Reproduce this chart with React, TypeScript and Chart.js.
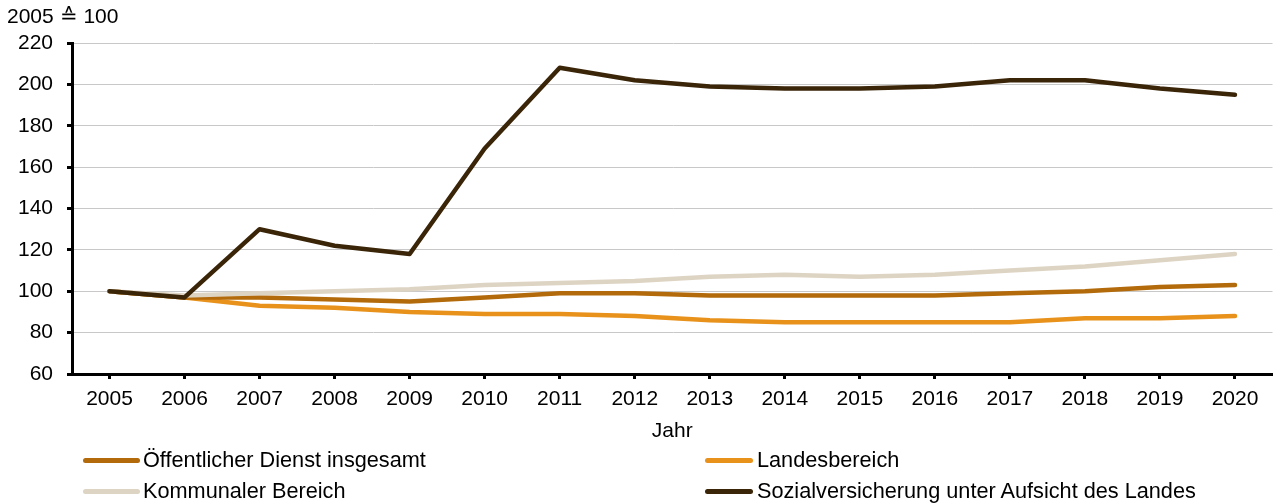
import React, { useEffect, useRef } from "react";
import { Chart, registerables } from "chart.js";

Chart.register(...registerables);

const years = ["2005", "2006", "2007", "2008", "2009", "2010", "2011", "2012", "2013", "2014", "2015", "2016", "2017", "2018", "2019", "2020"];
const oeffentlich = [100, 97, 97, 96, 95, 97, 99, 99, 98, 98, 98, 98, 99, 100, 102, 103];
const landes = [100, 97, 93, 92, 90, 89, 89, 88, 86, 85, 85, 85, 85, 87, 87, 88];
const kommunal = [100, 98, 99, 100, 101, 103, 104, 105, 107, 108, 107, 108, 110, 112, 115, 118];
const sozial = [100, 97, 130, 122, 118, 169, 208, 202, 199, 198, 198, 199, 202, 202, 198, 195];

const seriesNames = [
  "Öffentlicher Dienst insgesamt",
  "Landesbereich",
  "Kommunaler Bereich",
  "Sozialversicherung unter Aufsicht des Landes",
];
const seriesColors = ["#B36A0A", "#E8921C", "#DED4C4", "#3A2508"];

const yMin = 60;
const yMax = 220;
const yStep = 20;
const yUnitLabel = "2005 ≙ 100";
const xTitle = "Jahr";

const FONT = "'Liberation Sans', Arial, Helvetica, sans-serif";

export default function App() {
  const ref = useRef<HTMLCanvasElement>(null);

  useEffect(() => {
    const values = [oeffentlich, landes, kommunal, sozial];
    const orders = [2, 3, 1, 0];
    const chart = new Chart(ref.current as HTMLCanvasElement, {
      type: "line",
      data: {
        labels: years,
        datasets: values.map((v, i) => ({
          label: seriesNames[i],
          data: v,
          borderColor: seriesColors[i],
          backgroundColor: seriesColors[i],
          borderWidth: 4.5,
          pointRadius: 0,
          tension: 0,
          borderCapStyle: "round" as const,
          borderJoinStyle: "round" as const,
          order: orders[i],
        })),
      },
      options: {
        animation: false,
        responsive: false,
        maintainAspectRatio: false,
        layout: { padding: { top: 43, right: 5.5, bottom: 60, left: 0 } },
        plugins: {
          legend: { display: false },
          tooltip: { enabled: false },
          title: { display: false },
        },
        scales: {
          x: {
            type: "category",
            offset: true,
            grid: {
              offset: false,
              drawOnChartArea: false,
              color: "#000",
              tickColor: "#000",
              tickLength: 5,
              tickWidth: 3,
            },
            border: { color: "#000", width: 3 },
            ticks: {
              color: "#000",
              font: { family: FONT, size: 21 },
              padding: 8,
              maxRotation: 0,
              autoSkip: false,
            },
            title: {
              display: true,
              text: xTitle,
              color: "#000",
              font: { family: FONT, size: 21 },
              padding: 0,
            },
            afterFit: (s: any) => {
              s.height = 70;
            },
          },
          y: {
            min: yMin,
            max: yMax,
            ticks: {
              stepSize: yStep,
              color: "#000",
              font: { family: FONT, size: 21 },
              padding: 14,
            },
            grid: {
              color: "#C8C8C8",
              lineWidth: 1,
              tickColor: "#000",
              tickLength: 5,
              tickWidth: 3,
            },
            border: { color: "#000", width: 3 },
            afterFit: (s: any) => {
              s.width = 72;
            },
          },
        },
      },
    });
    return () => chart.destroy();
  }, []);

  const legendPos = [
    { lineLeft: 83, lineWidth: 57, textLeft: 143, center: 460 },
    { lineLeft: 705, lineWidth: 48, textLeft: 757, center: 460 },
    { lineLeft: 83, lineWidth: 57, textLeft: 143, center: 491 },
    { lineLeft: 705, lineWidth: 48, textLeft: 757, center: 491 },
  ];

  return (
    <div
      style={{
        position: "absolute",
        left: 0,
        top: 0,
        width: 1278,
        height: 504,
        background: "#fff",
        fontFamily: FONT,
        color: "#000",
        overflow: "hidden",
      }}
    >
      <canvas ref={ref} width={1278} height={504} style={{ position: "absolute", left: 0, top: 0 }} />
      <div
        style={{
          position: "absolute",
          left: 7,
          top: 3,
          fontSize: 21,
          lineHeight: "25px",
          whiteSpace: "nowrap",
        }}
      >
        {yUnitLabel}
      </div>
      {seriesNames.map((name, i) => {
        const p = legendPos[i];
        return (
          <React.Fragment key={name}>
            <div
              style={{
                position: "absolute",
                left: p.lineLeft,
                top: p.center - 2.5,
                width: p.lineWidth,
                height: 5,
                borderRadius: 2.5,
                background: seriesColors[i],
              }}
            />
            <div
              style={{
                position: "absolute",
                left: p.textLeft,
                top: p.center - 13,
                fontSize: 21.7,
                lineHeight: "26px",
                whiteSpace: "nowrap",
              }}
            >
              {name}
            </div>
          </React.Fragment>
        );
      })}
    </div>
  );
}
